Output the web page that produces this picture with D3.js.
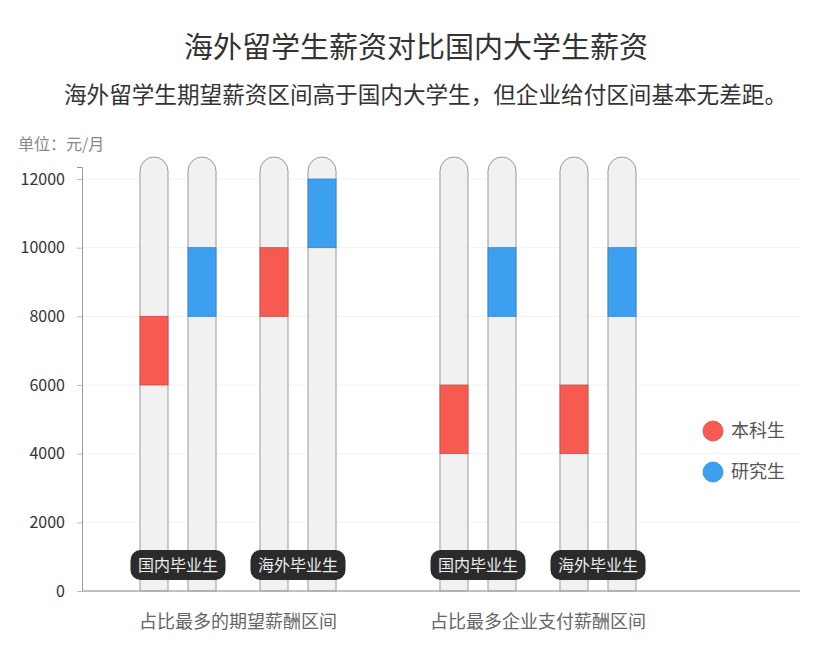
<!DOCTYPE html>
<html>
<head>
<meta charset="utf-8">
<script src="https://cdn.jsdelivr.net/npm/d3@7"></script>
<style>
  body { margin: 0; background: #fff; }
  text { font-family: "Noto Sans CJK SC", "Noto Sans", sans-serif; }
</style>
</head>
<body>
<svg id="chart" width="831" height="650"></svg>
<script>
var width = 831
var height = 650

// data
var categories = ["占比最多的期望薪酬区间", "占比最多企业支付薪酬区间"];
var groups = ["国内毕业生", "海外毕业生"];
var series = ["本科生", "研究生"];
// salary range [low, high] per series
var rangeExpectDomestic = [[6000, 8000], [8000, 10000]];
var rangeExpectOverseas = [[8000, 10000], [10000, 12000]];
var rangePaidDomestic = [[4000, 6000], [8000, 10000]];
var rangePaidOverseas = [[4000, 6000], [8000, 10000]];
var yTicks = [0, 2000, 4000, 6000, 8000, 10000, 12000];
var colors = ["#f65a51", "#3c9ff0"];

var ranges = [
  [rangeExpectDomestic, rangeExpectOverseas],
  [rangePaidDomestic, rangePaidOverseas]
];

var svg = d3.select("#chart");

var plotLeft = 82, plotRight = 800, plotTop = 167, plotBottom = 591;

var y = d3.scaleLinear()
    .domain([0, 12350])
    .range([plotBottom, plotTop]);

var x0 = d3.scaleBand()
    .domain(categories)
    .range([88, 688]);

var x1 = d3.scaleBand()
    .domain(groups)
    .range([0, x0.bandwidth()])
    .paddingOuter(0.25);

var x2 = d3.scaleBand()
    .domain(series)
    .range([0, x1.bandwidth()])
    .paddingInner(20 / 48)
    .paddingOuter(0.4583);

// titles
svg.append("text")
    .attr("x", 416).attr("y", 58)
    .attr("text-anchor", "middle")
    .style("font-size", "29px")
    .style("fill", "#333")
    .text("海外留学生薪资对比国内大学生薪资");

svg.append("text")
    .attr("x", 64).attr("y", 103)
    .style("font-size", "22.6px")
    .style("fill", "#333")
    .text("海外留学生期望薪资区间高于国内大学生，但企业给付区间基本无差距。");

svg.append("text")
    .attr("x", 18).attr("y", 150)
    .style("font-size", "16px")
    .style("fill", "#888")
    .text("单位：元/月");

// grid
svg.append("g")
  .selectAll("line")
  .data(yTicks.slice(1))
  .enter().append("line")
    .attr("x1", plotLeft).attr("x2", plotRight)
    .attr("y1", function(d) { return y(d); })
    .attr("y2", function(d) { return y(d); })
    .style("stroke", "#f2f2f2");

// y axis
var yAxis = svg.append("g")
    .attr("transform", "translate(" + plotLeft + ",0)")
    .call(d3.axisLeft(y).tickValues(yTicks).tickFormat(d3.format("d"))
      .tickSize(5).tickPadding(12));
yAxis.select(".domain").style("stroke", "#999");
yAxis.selectAll(".tick line").style("stroke", "#bbb");
yAxis.selectAll(".tick text")
    .style("font-size", "16px")
    .style("fill", "#333")
    .style("font-family", "'Noto Sans CJK SC', sans-serif");

// tubes
var r = x2.bandwidth() / 2;
var capTop = y(12000) - 22;

var cat = svg.selectAll(".cat")
  .data(categories)
  .enter().append("g")
    .attr("class", "cat")
    .attr("transform", function(d) { return "translate(" + x0(d) + ",0)"; });

var grp = cat.selectAll(".grp")
  .data(function(d, i) {
    return groups.map(function(g, j) { return { cat: i, group: g, vals: ranges[i][j] }; });
  })
  .enter().append("g")
    .attr("class", "grp")
    .attr("transform", function(d) { return "translate(" + x1(d.group) + ",0)"; });

var bar = grp.selectAll(".bar")
  .data(function(d) {
    return series.map(function(s, k) { return { series: s, k: k, v: d.vals[k] }; });
  })
  .enter().append("g")
    .attr("class", "bar")
    .attr("transform", function(d) { return "translate(" + x2(d.series) + ",0)"; });

bar.append("path")
    .attr("d", function() {
      var w = x2.bandwidth();
      return "M0," + plotBottom + "V" + (capTop + r) +
        "A" + r + "," + r + " 0 0 1 " + w + "," + (capTop + r) +
        "V" + plotBottom + "Z";
    })
    .style("fill", "#f1f1f1")
    .style("stroke", "#9a9a9a")
    .style("stroke-width", 1);

bar.append("rect")
    .attr("x", 0)
    .attr("width", x2.bandwidth())
    .attr("y", function(d) { return y(d.v[1]); })
    .attr("height", function(d) { return y(d.v[0]) - y(d.v[1]); })
    .style("fill", function(d) { return colors[d.k]; })
    .style("stroke", function(d) { return d3.color(colors[d.k]).darker(0.5); })
    .style("stroke-width", 0.8);

// group pills
var pillW = 95, pillH = 30;
grp.append("rect")
    .attr("x", x1.bandwidth() / 2 - pillW / 2)
    .attr("y", 550)
    .attr("width", pillW)
    .attr("height", pillH)
    .attr("rx", 10)
    .style("fill", "#2b2b2b");

grp.append("text")
    .attr("x", x1.bandwidth() / 2)
    .attr("y", 571)
    .attr("text-anchor", "middle")
    .style("font-size", "16px")
    .style("fill", "#eee")
    .text(function(d) { return d.group; });

// baseline
svg.append("line")
    .attr("x1", plotLeft).attr("x2", plotRight)
    .attr("y1", plotBottom).attr("y2", plotBottom)
    .style("stroke", "#aaa")
    .style("stroke-width", 1.5);

// category labels
cat.append("text")
    .attr("x", x0.bandwidth() / 2)
    .attr("y", 628)
    .attr("text-anchor", "middle")
    .style("font-size", "18px")
    .style("fill", "#666")
    .text(function(d) { return d; });

// legend
var legend = svg.selectAll(".legend")
  .data(series)
  .enter().append("g")
    .attr("class", "legend")
    .attr("transform", function(d, i) { return "translate(713," + (431 + i * 41) + ")"; });

legend.append("circle")
    .attr("r", 10)
    .style("fill", function(d, i) { return colors[i]; })
    .style("stroke", function(d, i) { return d3.color(colors[i]).darker(0.4); })
    .style("stroke-width", 0.8);

legend.append("text")
    .attr("x", 18)
    .attr("y", 6)
    .style("font-size", "18px")
    .style("fill", "#555")
    .text(function(d) { return d; });
</script>
</body>
</html>
